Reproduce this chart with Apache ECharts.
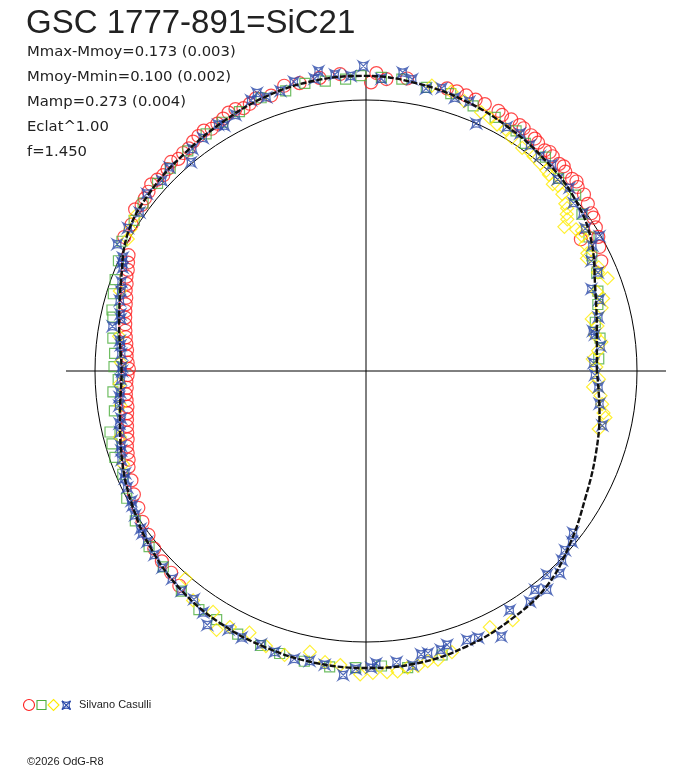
<!DOCTYPE html>
<html>
<head>
<meta charset="utf-8">
<style>
  html, body { margin: 0; height: 100%; background: #fff; }
  #chart { width: 688px; height: 768px; }
</style>
</head>
<body>
<div id="chart"></div>
<script src="https://cdn.jsdelivr.net/npm/echarts@6/dist/echarts.min.js"></script>
<script>
// angle = phase in degrees (0 = right, counter-clockwise), flux relative to the mean level (1 = ref circle)
var fitAngle = [0, 10, 20, 30, 40, 50, 60, 70, 80, 90, 100, 110, 120, 130, 140, 150, 160, 170, 180,
                190, 200, 210, 220, 230, 240, 250, 260, 270, 280, 290, 300, 310, 320, 330, 340, 350, 360];
var fitFlux = [0.852, 0.865, 0.900, 0.960, 1.000, 1.022, 1.042, 1.062, 1.078, 1.089, 1.088, 1.078, 1.060,
               1.045, 1.035, 1.015, 0.962, 0.925, 0.902, 0.922, 0.958, 0.995, 1.030, 1.058, 1.075, 1.085,
               1.093, 1.096, 1.095, 1.082, 1.062, 1.037, 0.985, 0.935, 0.902, 0.875, 0.852];

var redPts = [[25,0.958],[28,0.975],[30,0.99],[31.5,0.93],[32,1.0],[34,1.012],[35,1.015],[37,1.025],[39,1.035],
  [41,1.035],[42,1.045],[43,1.04],[45,1.04],[46,1.05],[47,1.045],[49,1.05],[50,1.055],[51,1.048],[53,1.055],
  [54,1.06],[55,1.062],[57,1.068],[58,1.07],[60,1.072],[62,1.07],[63,1.077],[66,1.078],[68,1.08],[70,1.082],
  [72,1.085],[74,1.085],[82,1.09],[86,1.08],[88,1.1],[89,1.065],[95,1.1],[99,1.095],
  [103,1.09],[106,1.095],[109,1.075],[112,1.085],[113.5,1.075],[115,1.07],[116.5,1.08],[118,1.08],[119.5,1.07],
  [121,1.065],[122.5,1.06],[124,1.07],[125.5,1.065],[127,1.06],[128.5,1.05],[130,1.05],[131.5,1.045],[133,1.055],
  [134.5,1.045],[136,1.04],[137.5,1.045],[139,1.05],[140.5,1.04],[142,1.035],[143.5,1.03],[145,1.04],[148,1.02],
  [151,1.02],[154,0.975],[155.5,0.965],[157,0.955],[158.5,0.95],[160,0.94],[161.5,0.935],[163,0.925],
  [164.5,0.92],[166,0.915],[167.5,0.91],[169,0.905],[170.5,0.9],[172,0.895],[173.5,0.89],[175,0.885],
  [176.5,0.885],[178,0.88],[179.5,0.875],[181,0.88],[182.5,0.885],[184,0.885],[185.5,0.89],[187,0.89],
  [188.5,0.89],[190,0.895],[191.5,0.9],[193,0.905],[194.5,0.91],[196,0.915],[197.5,0.925],[199,0.93],
  [200.5,0.935],[202,0.945],[205,0.955],[208,0.97],[211,0.98],[214,0.995],[217,1.005],[220,1.02],[223,1.03],
  [226,1.035],[229,1.05]];

var greenPts = [[3,0.86],[8,0.872],[12,0.865],[16,0.89],[19,0.905],[23,0.925],[27,0.935],[31,0.96],[36,0.985],
  [40,1.01],[45,1.005],[50,1.03],[55,1.025],[58,1.045],[63,1.05],[68,1.055],[73,1.07],[78,1.07],[83,1.085],
  [87,1.085],[91,1.09],[94,1.08],[98,1.08],[102,1.085],[106,1.075],[111,1.08],[116,1.065],[120,1.06],
  [124,1.055],[129,1.045],[134,1.04],[138,1.035],[143,1.03],[147,1.02],[152,1.02],[156,1.0],[160,0.985],
  [163,0.975],[166.5,0.964],[168,0.955],[172.6,0.942],[176,0.93],[179,0.93],[182,0.915],[184.7,0.937],
  [189,0.94],[193.4,0.971],[196,0.975],[199,0.98],[203,0.975],[208,1.0],[213,1.015],[219,1.03],[224,1.04],
  [230,1.06],[235,1.075],[239,1.07],[244,1.08],[249,1.085],[253,1.09],[258,1.095],[263,1.1],[268,1.095],
  [273,1.09],[278,1.105],[285,1.085]];

var yellowPts = [[346,0.885],[349,0.9],[350,0.89],[352,0.88],[354,0.87],[356,0.84],[358,0.86],[1,0.85],
  [3,0.838],[5,0.86],[7,0.875],[9,0.855],[11,0.87],[13,0.855],[15,0.9],[17,0.915],[19,0.9],[21,0.955],
  [23,0.93],[24,0.94],[27,0.915],[28,0.925],[30,0.935],[32,0.94],[33,0.95],[34,0.935],[36,0.905],[37,0.93],
  [38,0.94],[39,0.955],[40,0.96],[42,0.975],[44,0.985],[45,0.975],[47,0.99],[48,0.995],[50,1.0],[52,1.005],
  [53,1.01],[55,1.005],[58,1.015],[60,1.03],[62,1.03],[64,1.04],[66,1.045],[70,1.06],
  [73,1.078],[77,1.081],[146,1.025],[149,1.015],[151,1.005],[162,0.955],[172,0.92],[178,0.905],[183,0.91],
  [188,0.915],[195,0.94],[201,0.96],[229,1.015],[233,1.06],[237.6,1.053],[240,1.103],[242,1.07],[246,1.057],
  [250,1.08],[254,1.09],[258.7,1.057],[262,1.085],[265,1.089],[268.9,1.12],[271.3,1.114],[274,1.114],
  [276,1.115],[278,1.105],[280,1.105],[282,1.095],[284,1.098],[287,1.085],[295.8,1.05],[300.5,1.067]];

var bluePts = [[2,0.84],[6,0.87],[9,0.855],[10,0.85],[13,0.88],[17,0.9],[20,0.885],[23,0.93],[26,0.925],
  [29,0.955],[30,0.995],[33,0.965],[36,0.99],[39,0.985],[42,1.01],[45,1.0],[48,1.025],[51,1.02],[54,1.03],
  [57,1.045],[60,1.04],[66,1.0],[69,1.065],[72,1.06],[75,1.08],[78,1.065],[81,1.09],[83,1.11],[87,1.08],
  [90.5,1.125],[93,1.09],[96,1.1],[99,1.12],[100,1.095],[104,1.1],[107,1.08],[110,1.075],[111.4,1.102],
  [113,1.085],[117,1.06],[120,1.045],[121,1.06],[125,1.05],[128,1.04],[130,1.005],[134,1.045],[137,1.03],
  [141,1.04],[145,1.02],[149,1.025],[153,1.03],[155,0.99],[156,0.985],[157,0.975],[160,0.96],[162,0.95],
  [164,0.945],[167,0.93],[168,0.925],[170,0.95],[173,0.915],[174,0.91],[176,0.905],[179,0.9],[180,0.9],
  [182,0.905],[185,0.91],[186,0.915],[188,0.92],[191,0.92],[192,0.93],[194,0.935],[197,0.945],[198,0.95],
  [200,0.96],[203,0.965],[204,0.975],[206,0.98],[209,0.99],[210,0.995],[212,1.005],[215,1.015],[216,1.02],
  [218,1.025],[221,1.035],[224,1.045],[227,1.05],[230,1.06],[233,1.055],[236,1.075],[238,1.105],[242,1.08],
  [245,1.085],[249,1.08],[252,1.09],[256,1.095],[259,1.09],[262,1.095],[265.7,1.125],[268,1.1],[271,1.095],
  [272,1.08],[276,1.08],[279,1.1],[281,1.065],[282.4,1.066],[285,1.065],[286.5,1.054],[290.6,1.06],
  [292.8,1.068],[297,1.1],[301,1.03],[305.4,1.045],[307.7,1.02],[309.6,1.048],[311.6,1.006],[313.8,1.034],
  [316,1.005],[318,0.988],[320.3,0.988],[322,0.97],[347,0.895],[352,0.87],[356,0.86],[359,0.845]];

var titleText = 'GSC 1777-891=SiC21';
var infoLines = ['Mmax-Mmoy=0.173 (0.003)', 'Mmoy-Mmin=0.100 (0.002)', 'Mamp=0.273 (0.004)', 'Eclat^1.00', 'f=1.450'];
var observer = 'Silvano Casulli';
var copyright = '\u00a92026 OdG-R8';

var CX = 366, CY = 371, R_REF = 271, R_OUT = 300;
var RED = '#ff1e1e', GREEN = '#4cae3c', YELLOW = '#ffec00', BLUE = '#2c4aaa';
var starPath = 'path://M0,0 Q5,3.2 10,0 Q6.8,5 10,10 Q5,6.8 0,10 Q3.2,5 0,0 Z M0,0 L10,10 M10,0 L0,10';

var chart = echarts.init(document.getElementById('chart'));
var off = { show: false };

// polar series want [radius, angle]
function toPolar(list) { return list.map(function (p) { return [p[1], p[0]]; }); }
function marks(name, list, symbol, size, color) {
  return {
    name: name, type: 'scatter', coordinateSystem: 'polar', polarIndex: 0,
    symbol: symbol, symbolSize: size, clip: false, silent: true,
    itemStyle: { color: 'rgba(0,0,0,0)', borderColor: color, borderWidth: 1.2 },
    data: toPolar(list)
  };
}

var fitData = fitAngle.map(function (a, i) { return [fitFlux[i], a]; });

// little legend star, same outline as the blue marker
function legendStar(x, y, s) {
  var st = { fill: 'none', stroke: BLUE, lineWidth: 1.1 };
  var k = 0.32 * s, h = s / 2;
  return { type: 'group', x: x, y: y, children: [
    { type: 'bezierCurve', shape: { x1: 0, y1: 0, x2: s, y2: 0, cpx1: h, cpy1: k }, style: st },
    { type: 'bezierCurve', shape: { x1: s, y1: 0, x2: s, y2: s, cpx1: s - k, cpy1: h }, style: st },
    { type: 'bezierCurve', shape: { x1: s, y1: s, x2: 0, y2: s, cpx1: h, cpy1: s - k }, style: st },
    { type: 'bezierCurve', shape: { x1: 0, y1: s, x2: 0, y2: 0, cpx1: k, cpy1: h }, style: st },
    { type: 'line', shape: { x1: 0, y1: 0, x2: s, y2: s }, style: st },
    { type: 'line', shape: { x1: s, y1: 0, x2: 0, y2: s }, style: st }
  ] };
}

var graphics = [
  { type: 'text', x: 26, y: 24, style: { text: titleText, font: '33px "Liberation Sans"', fill: '#222', verticalAlign: 'middle' } }
];
infoLines.forEach(function (t, i) {
  graphics.push({ type: 'text', x: 27, y: 52 + i * 25,
    style: { text: t, font: '14.8px "DejaVu Sans"', fill: '#222', verticalAlign: 'middle' } });
});
graphics.push(
  { type: 'circle', shape: { cx: 29, cy: 705, r: 5.5 }, style: { fill: 'none', stroke: RED, lineWidth: 1.1 } },
  { type: 'rect', shape: { x: 37, y: 700.5, width: 9, height: 9 }, style: { fill: 'none', stroke: GREEN, lineWidth: 1.1 } },
  { type: 'polygon', shape: { points: [[53.5, 699.5], [59, 705], [53.5, 710.5], [48, 705]] }, style: { fill: 'none', stroke: YELLOW, lineWidth: 1.1 } },
  legendStar(62, 701, 8.5),
  { type: 'text', x: 79, y: 705, style: { text: observer, font: '11px "Liberation Sans"', fill: '#222', verticalAlign: 'middle' } },
  { type: 'text', x: 27, y: 762, style: { text: copyright, font: '11px "Liberation Sans"', fill: '#222', verticalAlign: 'middle' } }
);

var option = {
  backgroundColor: '#fff',
  animation: false,
  polar: [
    { center: [CX, CY], radius: R_OUT },
    { center: [CX, CY], radius: R_REF }
  ],
  angleAxis: [
    { polarIndex: 0, type: 'value', min: 0, max: 360, interval: 90, startAngle: 0, clockwise: false,
      axisLine: off, axisTick: off, axisLabel: off,
      splitLine: { show: true, lineStyle: { color: '#000', width: 1 } } },
    { polarIndex: 1, type: 'value', min: 0, max: 360, startAngle: 0, clockwise: false,
      axisLine: { show: true, lineStyle: { color: '#000', width: 1 } },
      axisTick: off, axisLabel: off, splitLine: off }
  ],
  radiusAxis: [
    { polarIndex: 0, type: 'value', min: 0, max: R_OUT / R_REF, axisLine: off, axisTick: off, axisLabel: off, splitLine: off },
    { polarIndex: 1, type: 'value', min: 0, max: 1, axisLine: off, axisTick: off, axisLabel: off, splitLine: off }
  ],
  graphic: graphics,
  series: [
    marks('red', redPts, 'circle', 13, RED),
    marks('green', greenPts, 'rect', 10, GREEN),
    marks('yellow', yellowPts, 'diamond', 13, YELLOW),
    marks('blue', bluePts, starPath, 10, BLUE),
    {
      name: 'fit', type: 'line', coordinateSystem: 'polar', polarIndex: 0, clip: false, silent: true,
      smooth: 0.4, symbol: 'none', z: 3,
      lineStyle: { color: '#111', width: 2.4, type: [6, 2] },
      data: fitData
    }
  ]
};
chart.setOption(option);
</script>
</body>
</html>
